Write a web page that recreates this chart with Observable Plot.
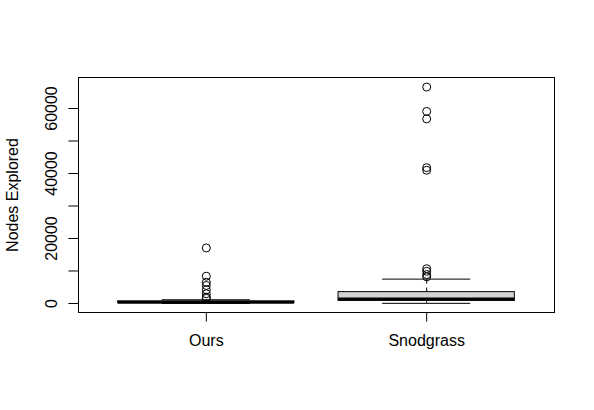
<!DOCTYPE html>
<html>
<head>
<meta charset="utf-8">
<script src="https://cdn.jsdelivr.net/npm/d3@7"></script>
<script src="https://cdn.jsdelivr.net/npm/@observablehq/plot@0.6"></script>
<style>
  html, body { margin: 0; padding: 0; background: #fff; }
  svg { display: block; }
</style>
</head>
<body>
<div id="chart"></div>
<script>
// ---- data ----
const categories = ["Ours", "Snodgrass"];
const whiskerLow  = [20, 50];
const q1          = [150, 800];
const median      = [350, 1400];
const q3          = [650, 3500];
const whiskerHigh = [1150, 7500];
const outliersOurs      = [1600, 1940, 2990, 4220, 5540, 6550, 8400, 17100];
const outliersSnodgrass = [8200, 8900, 9900, 10700, 41000, 41800, 56800, 59100, 66600];
const yTicks      = [0, 10000, 20000, 30000, 40000, 50000, 60000];
const yTickLabels = [0, 20000, 40000, 60000];
const yLabel = "Nodes Explored";

// ---- tables built from the arrays ----
const boxes = categories.map((c, i) => ({
  cat: c, pos: i + 1,
  lo: whiskerLow[i], q1: q1[i], med: median[i], q3: q3[i], hi: whiskerHigh[i]
}));
const outliers = [
  ...outliersOurs.map(v => ({pos: 1, v})),
  ...outliersSnodgrass.map(v => ({pos: 2, v}))
];
const half = 0.4, staple = 0.2;
const font = "Liberation Sans, Arial, Helvetica, sans-serif";

const chart = Plot.plot({
  width: 594,
  height: 410,
  marginLeft: 78,
  marginRight: 40,
  marginTop: 77,
  marginBottom: 98,
  style: {fontFamily: font, fontSize: "16px", color: "black", background: "white"},
  x: {domain: [0.42, 2.58], axis: null},
  y: {domain: [-2770, 69540], axis: null},
  marks: [
    // whiskers (dashed)
    Plot.ruleX(boxes, {x: "pos", y1: "q3", y2: "hi", stroke: "black", strokeDasharray: "4,4"}),
    Plot.ruleX(boxes, {x: "pos", y1: "lo", y2: "q1", stroke: "black", strokeDasharray: "4,4"}),
    // staples
    Plot.ruleY(boxes, {y: "hi", x1: d => d.pos - staple, x2: d => d.pos + staple, stroke: "black"}),
    Plot.ruleY(boxes, {y: "lo", x1: d => d.pos - staple, x2: d => d.pos + staple, stroke: "black"}),
    // boxes
    Plot.rect(boxes, {x1: d => d.pos - half, x2: d => d.pos + half, y1: "q1", y2: "q3",
      fill: "#d3d3d3", stroke: "black", strokeWidth: 1}),
    // medians
    Plot.ruleY(boxes, {y: "med", x1: d => d.pos - half, x2: d => d.pos + half, stroke: "black", strokeWidth: 3}),
    // outliers
    Plot.dot(outliers, {x: "pos", y: "v", r: 4, stroke: "black", fill: "none", strokeWidth: 1}),
    // frame
    Plot.frame({stroke: "black"}),
    // y axis ticks
    Plot.axisY({ticks: yTicks, tickSize: 9.6, tickFormat: () => "", label: null, stroke: "black"}),
    // y tick labels, rotated
    Plot.text(yTickLabels, {y: d => d, text: d => String(d), frameAnchor: "left", dx: -22,
      rotate: -90, textAnchor: "middle", lineAnchor: "bottom", fill: "black", fontSize: 16}),
    // x axis
    Plot.axisX({ticks: [1, 2], tickFormat: i => categories[i - 1], tickSize: 9.6,
      tickPadding: 13, label: null, stroke: "black", fill: "black", fontSize: 16}),
    // y label
    Plot.text([yLabel], {text: d => d, frameAnchor: "left", dx: -60.5, rotate: -90,
      textAnchor: "middle", lineAnchor: "bottom", fill: "black", fontSize: 16})
  ]
});
document.getElementById("chart").appendChild(chart);
</script>
</body>
</html>
